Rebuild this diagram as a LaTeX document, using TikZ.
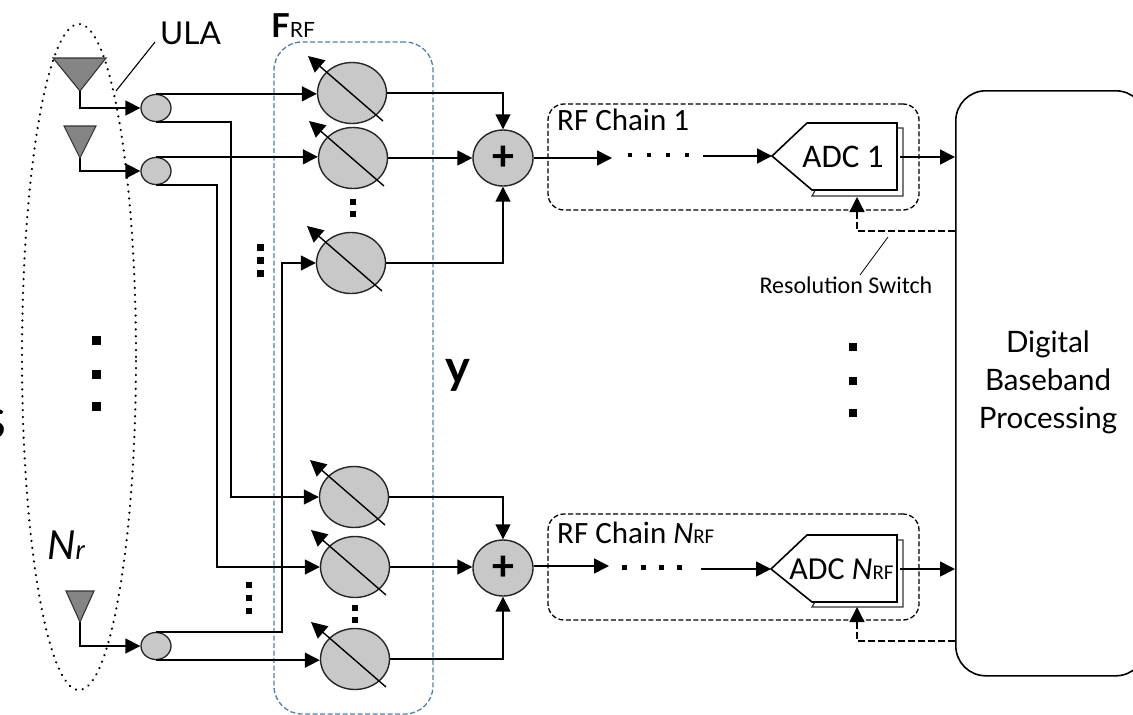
\documentclass[tikz,border=0pt]{standalone}
\usepackage{fontspec}
\setmainfont{Carlito}
\newfontfamily\gill{Lato}
\usetikzlibrary{arrows.meta,shapes.geometric}
\definecolor{fillg}{HTML}{C8C8C8}
\definecolor{antg}{HTML}{858585}
\definecolor{boxblue}{HTML}{4F81A8}
\tikzset{
 wire/.style={draw=black,line width=1.6pt},
 arr/.style={wire,-{Triangle[length=15pt,width=15pt]}},
 arrs/.style={wire,-{Triangle[length=15pt,width=15pt]}},
 phase/.style={draw=black!85,line width=1.4pt,fill=fillg,ellipse,minimum width=69pt,minimum height=61pt,inner sep=0pt},
 split/.style={draw=black!85,line width=1.3pt,fill=fillg,ellipse,minimum width=30pt,minimum height=27pt,inner sep=0pt},
 summer/.style={draw=black!85,line width=1.4pt,fill=fillg,ellipse,minimum width=60pt,minimum height=56pt,inner sep=0pt},
 ant/.style={draw=black!80,line width=1.1pt,fill=antg},
 sq/.style={fill=black,minimum size=#1,inner sep=0pt,rectangle},
 sq/.default=7pt,
 rfbox/.style={draw=black,line width=1.3pt,dash pattern=on 5pt off 2.5pt,rounded corners=16pt},
 dashw/.style={draw=black,line width=1.9pt,dash pattern=on 7pt off 3pt},
 lab/.style={inner sep=0pt,font=\fontsize{31}{31}\selectfont},
 txt/.style={inner sep=0pt,font=\gill\fontsize{29.5}{38}\selectfont,align=center},
}
\newcommand{\diagarrow}[1]{\draw[draw=black,line width=1.4pt,-{Triangle[length=16pt,width=16pt]}] ([shift={(31,28)}]#1.center) -- ([shift={(-44,-37)}]#1.center);}
\begin{document}
\begin{tikzpicture}[x=1pt,y=-1pt]
\useasboundingbox (0,0) rectangle (1133,715);
% ULA ellipse
\node[draw=black,line width=2.4pt,dash pattern=on 0.1pt off 6.8pt,line cap=round,ellipse,minimum width=114pt,minimum height=666pt,inner sep=0pt] (ula) at (79,357) {};
% F_RF box
\node[draw=boxblue,line width=1.3pt,dash pattern=on 5pt off 2.5pt,rounded corners=28pt,minimum width=159pt,minimum height=672pt,inner sep=0pt] (frf) at (353.5,378) {};
% antennas
\coordinate (a1) at (80,91); \coordinate (a2) at (80,158); \coordinate (a3) at (80,622);
\draw[ant] (53,58) -- (106,58) -- (a1) -- cycle;
\draw[ant] (64,126) -- (96,126) -- (a2) -- cycle;
\draw[ant] (66,591) -- (94,591) -- (a3) -- cycle;
% splitters
\node[split] (s1) at (156,108) {};
\node[split] (s2) at (156,171) {};
\node[split] (s3) at (156,646) {};
% phase shifters
\node[phase] (p1) at (352,93) {};
\node[phase] (p2) at (353,158) {};
\node[phase] (p3) at (351,263) {};
\node[phase] (p4) at (354,497) {};
\node[phase] (p5) at (355,567) {};
\node[phase] (p6) at (355,659) {};
\foreach \n in {p1,p2,p3,p4,p5,p6} {\diagarrow{\n}}
% summers
\node[summer,font=\bfseries\fontsize{44}{44}\selectfont] (m1) at (503,158) {+};
\node[summer,font=\bfseries\fontsize{44}{44}\selectfont] (m2) at (503,568) {+};
% antenna feeds
\draw[arr] (a1) |- (s1.west);
\draw[arr] (a2) |- (s2.west);
\draw[arr] (a3) |- (s3.west);
% splitter to shifters
\draw[arr] (s1.north) -- (p1.west |- s1.north) ;
\draw[arr] (s2.north) -- (p2.west |- s2.north);
\draw[arr] (s3.south) -- (p6.west |- s3.south);
\coordinate (c1) at (231,121); \coordinate (c2) at (217,185); \coordinate (c3) at (282,633);
\draw[arr] (s1.south) -- (s1.south -| c1) |- (p4.west);
\draw[arr] (s2.south) -- (s2.south -| c2) |- (p5.west);
\draw[arr] (s3.north) -- (s3.north -| c3) |- (p3.west);
% shifters to summers
\draw[arr] (p1.east) -| (m1.north);
\draw[arr] (p2.east) -- (m1.west);
\draw[arr] (p3.east) -| (m1.south);
\draw[arr] (p4.east) -| (m2.north);
\draw[arr] (p5.east) -- (m2.west |- p5.east);
\draw[arr] (p6.east) -| (m2.south);
% RF chain boxes
\node[rfbox,minimum width=371pt,minimum height=106pt,inner sep=0pt] (rf1) at (733.5,157) {};
\node[rfbox,minimum width=371pt,minimum height=106pt,inner sep=0pt] (rf2) at (733.5,567) {};
% ADCs
\coordinate (adc1t) at (772,156);
\coordinate (adc2t) at (771,569);
\draw[draw=black!80,line width=1.2pt,fill=white] (812,196) -- (903,196) -- (903,128) -- (850,128) -- cycle;
\draw[draw=black,line width=1.6pt,fill=white] (adc1t) -- (807,123) -- (897,123) -- (897,190) -- (812,190) -- cycle;
\draw[draw=black!80,line width=1.2pt,fill=white] (812,607) -- (903,607) -- (903,540) -- (850,540) -- cycle;
\draw[draw=black,line width=1.6pt,fill=white] (adc2t) -- (807,535) -- (897,535) -- (897,602) -- (812,602) -- cycle;
\node[lab,font=\fontsize{33}{33}\selectfont] (adc1l) at (843,157) {ADC 1};
\node[lab,font=\fontsize{32}{32}\selectfont] (adc2l) at (841.5,569) {ADC \textit{N}{\fontsize{21}{21}\selectfont RF}};
\node[lab,anchor=west] (rf1l) at (557,120) {RF Chain 1};
\node[lab,anchor=west] (rf2l) at (557,533) {RF Chain \textit{N}{\fontsize{21}{21}\selectfont RF}};
% baseband
\node[draw=black,line width=1.6pt,rounded corners=30pt,minimum width=190pt,minimum height=585pt,inner sep=0pt,anchor=north west] (bb) at (955,90) {};
% chain wires
\coordinate (d1a) at (612,158); \coordinate (d1b) at (703,156);
\coordinate (d2a) at (609,566); \coordinate (d2b) at (701,569);
\draw[arrs] (m1.east) -- (d1a);
\draw[arrs] (d1b) -- (adc1t);
\draw[arrs] (m2.east |- d2a) -- (d2a);
\draw[arrs] (d2b) -- (adc2t);
\coordinate (o1) at (900,157); \coordinate (o2) at (900,569);
\draw[arrs] (o1) -- (bb.west |- o1);
\draw[arrs] (o2) -- (bb.west |- o2);
% dashed feedback
\coordinate (f1) at (857,231); \coordinate (f2) at (857,641);
\coordinate (t1) at (857,197); \coordinate (t2) at (857,607);
\draw[dashw] (bb.west |- f1) -- (f1) -- (857,212);
\draw[dashw] (bb.west |- f2) -- (f2) -- (857,622);
\draw[draw=black,-{Triangle[length=15pt,width=15pt]},line width=1.3pt] (857,211) -- (t1);
\draw[draw=black,-{Triangle[length=15pt,width=15pt]},line width=1.3pt] (857,621) -- (t2);
% callouts
\coordinate (u1) at (155,42); \coordinate (u2) at (116,91);
\draw[draw=black,line width=1.1pt] (u1) -- (u2);
\coordinate (r1) at (888,237);
\node[inner sep=0pt,font=\fontsize{24}{24}\selectfont] (rs) at (846,285) {Resolution Switch};
\coordinate (r2) at (860,275);
\draw[draw=black,line width=0.8pt] (r1) -- (r2);
% labels
\node[inner sep=0pt,anchor=west,font=\gill\fontsize{31.5}{31.5}\selectfont] (ulal) at (160,33) {ULA};
\node[inner sep=0pt,anchor=west] (frfl) at (271,26) {\fontsize{33}{33}\selectfont\gill\bfseries F\fontsize{21}{21}\selectfont\mdseries RF};
\node[inner sep=0pt,font=\gill\bfseries\fontsize{47}{47}\selectfont] (yl) at (458,375) {y};
\node[inner sep=0pt,anchor=east,font=\gill\fontsize{58}{58}\selectfont] (sl) at (6.5,424) {s};
\node[inner sep=0pt,anchor=west] (nr) at (47,545) {\gill\itshape\fontsize{40}{40}\selectfont N\fontsize{27}{27}\selectfont r};
\node[txt] (dbp) at (1048,382) {Digital\\Baseband\\Processing};
% dots
\foreach \x/\y/\z in {353/202/6pt,353/214/6pt,260/247/7pt,260/260/7pt,260/273/7pt,249/585/6pt,249/598/6pt,249/611/6pt,355/608/6pt,355/620/6pt,96/340/9pt,96/374/9pt,96/406/9pt,853/347/8pt,853/381/8pt,853/413/8pt,630/155/4.5pt,649/155/4.5pt,668/155/4.5pt,687/155/4.5pt,624/567/5pt,643/567/5pt,661/567/5pt,679/567/5pt}
  {\node[sq=\z] at (\x,\y) {};}
\end{tikzpicture}
\end{document}
